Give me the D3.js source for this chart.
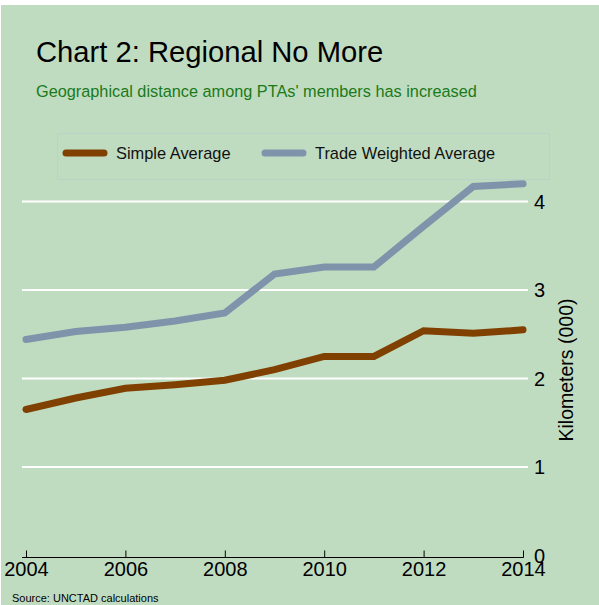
<!DOCTYPE html>
<html><head><meta charset="utf-8">
<script src="https://cdn.jsdelivr.net/npm/d3@7"></script>
<style>html,body{margin:0;padding:0;background:#fff;}svg{display:block;font-family:"Liberation Sans",Arial,sans-serif;}</style>
</head><body>
<script>
const years = [2004,2005,2006,2007,2008,2009,2010,2011,2012,2013,2014];
const simpleAverage = [1.65,1.78,1.89,1.93,1.98,2.10,2.25,2.25,2.54,2.51,2.55];
const tradeWeighted = [2.44,2.53,2.58,2.65,2.74,3.18,3.26,3.26,3.72,4.17,4.20];
const yTicks = [0,1,2,3,4];
const xTicks = [2004,2006,2008,2010,2012,2014];
const seriesNames = ["Simple Average","Trade Weighted Average"];
const seriesColors = ["#804000","#7f93ab"];

const W=599,H=605;
const svg=d3.select("body").append("svg").attr("width",W).attr("height",H);
svg.append("rect").attr("x",1).attr("y",5).attr("width",W-1).attr("height",H-5).attr("fill","#c0dcc0");

const x=d3.scaleLinear().domain([2004,2014]).range([26,523]);
const y=d3.scaleLinear().domain([0,4]).range([555.5,201.5]);

// gridlines
svg.append("g").selectAll("line").data(yTicks.filter(d=>d>0)).join("line")
  .attr("x1",22).attr("x2",528).attr("y1",d=>y(d)).attr("y2",d=>y(d))
  .attr("stroke","#fff").attr("stroke-width",2);

// y labels
svg.append("g").selectAll("text").data(yTicks).join("text")
  .attr("x",534).attr("y",d=>y(d)).attr("dy","0.36em")
  .attr("font-size",20).attr("fill","#000").text(d=>d);

svg.append("text").attr("transform",`translate(573,${370}) rotate(-90)`)
  .attr("text-anchor","middle").attr("font-size",19.5).text("Kilometers (000)");

// x axis
const xAxis=d3.axisBottom(x).tickValues(xTicks).tickFormat(d3.format("d")).tickSize(-7).tickSizeOuter(0).tickPadding(4);
const gx=svg.append("g").attr("transform","translate(0,557.5)").call(xAxis);
gx.select(".domain").attr("d",`M22,0H${x(2014)+0.5}`).attr("stroke","#000");
gx.selectAll(".tick line").attr("stroke","#000");
gx.selectAll(".tick text").attr("font-size",20).attr("fill","#000").attr("font-family","Liberation Sans, Arial, sans-serif");

// lines
const line=d3.line().x((d,i)=>x(years[i])).y(d=>y(d));
[simpleAverage,tradeWeighted].forEach((s,i)=>{
  svg.append("path").datum(s).attr("d",line).attr("fill","none")
    .attr("stroke",seriesColors[i]).attr("stroke-width",7)
    .attr("stroke-linecap","round").attr("stroke-linejoin","miter");
});

// legend
svg.append("rect").attr("x",57.5).attr("y",133.5).attr("width",492).attr("height",46)
  .attr("fill","none").attr("stroke","#b8d4c8").attr("stroke-width",1);
const legX=[66,265];
seriesNames.forEach((n,i)=>{
  svg.append("line").attr("x1",legX[i]).attr("x2",legX[i]+38).attr("y1",153).attr("y2",153)
    .attr("stroke",seriesColors[i]).attr("stroke-width",7).attr("stroke-linecap","round");
  svg.append("text").attr("x",legX[i]+50).attr("y",153).attr("dy","0.36em")
    .attr("font-size",16.4).attr("fill","#111").text(n);
});

// titles
svg.append("text").attr("x",36).attr("y",62).attr("font-size",29.2).attr("fill","#000").text("Chart 2: Regional No More");
svg.append("text").attr("x",36).attr("y",97).attr("font-size",16.3).attr("fill","#1a7a1a").text("Geographical distance among PTAs' members has increased");
svg.append("text").attr("x",12).attr("y",602).attr("font-size",11).attr("fill","#000").text("Source: UNCTAD calculations");
</script>
</body></html>
